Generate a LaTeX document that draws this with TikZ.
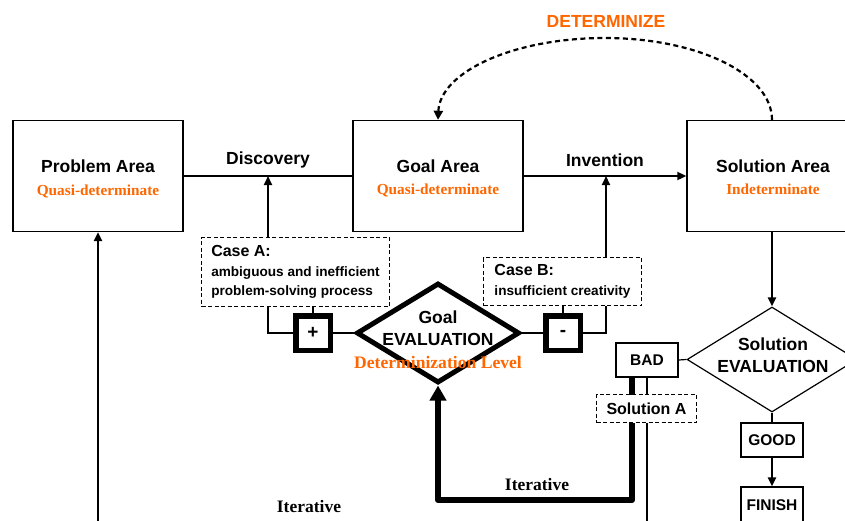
\documentclass[tikz,border=0pt]{standalone}
\usepackage{fontspec}
\setmainfont{Liberation Serif}
\newfontfamily\hv{Liberation Sans}
\usetikzlibrary{arrows.meta,shapes.geometric}
\definecolor{orng}{RGB}{255,102,0}
\begin{document}
\begin{tikzpicture}[x=1pt,y=-1pt,
  every node/.style={inner sep=0pt},
  area/.style={draw,line width=1.4pt,minimum width=170pt,minimum height=111pt},
  title/.style={anchor=base,font=\hv\bfseries\fontsize{17.5}{21}\selectfont},
  state/.style={anchor=base,font=\bfseries\fontsize{15.3}{18}\selectfont,text=orng},
  iter/.style={anchor=base,font=\bfseries\fontsize{17.5}{20}\selectfont},
  conn/.style={line width=2pt},
  arr/.style={conn,-{Triangle[length=9pt,width=8pt]}},
  casebox/.style={draw,line width=1.7pt,dash pattern=on 4pt off 2.5pt,fill=white,
    align=left,font=\hv\bfseries\fontsize{13.6}{19.5}\selectfont},
  signbox/.style={draw,line width=5.5pt,minimum size=34.5pt,fill=white,
    font=\hv\bfseries\fontsize{19}{20}\selectfont},
  smallbox/.style={draw,line width=1.2pt,fill=white,minimum width=62pt,minimum height=34pt,
    font=\hv\bfseries\fontsize{15.5}{18}\selectfont},
]
\path[use as bounding box] (0,0) rectangle (845,520);
\clip (0,0) rectangle (845,520);

% the three areas
\node[area] (pa) at (98,176) {};
\node[area] (ga) at (438,176) {};
\node[area] (sa) at (772,176) {};
\node[title] (pat) at (98,172) {Problem Area};
\node[state] (pas) at (98,195) {Quasi-determinate};
\node[title] (gat) at (438,172) {Goal Area};
\node[state] (gas) at (438,194) {Quasi-determinate};
\node[title] (sat) at (773,172) {Solution Area};
\node[state] (sas) at (773,194) {Indeterminate};

% junctions on the main line
\coordinate (dj) at (268,176);
\coordinate (ij) at (606,176);

\node[title] (disc) at (268,164) {Discovery};
\node[title] (inv) at (605,166) {Invention};
\node[title,text=orng] (det) at (606,27) {DETERMINIZE};

% main flow
\draw[conn] (pa.east) -- (ga.west);
\draw[arr] (ga.east) -- (sa.west);
\draw[line width=2.2pt,dash pattern=on 5pt off 3.5pt,-{Triangle[length=9pt,width=9pt]}]
  (sa.north) .. controls (772,74) and (697,38) .. (605,38)
  .. controls (513,38) and (440,72) .. (ga.north);

% case boxes
\node[casebox,minimum width=188pt,minimum height=69pt] (caseA) at (295.5,272)
  {{\fontsize{16}{19.5}\selectfont Case A:}\\ambiguous and inefficient\\problem-solving process};
\node[casebox,minimum width=158pt,minimum height=48pt] (caseB) at (562.5,281.5)
  {{\fontsize{16}{19.5}\selectfont Case B:}\\insufficient creativity};

% goal evaluation
\node[draw,diamond,line width=5pt,minimum width=163pt,minimum height=100pt] (gd) at (438,333) {};
\node[signbox] (plus) at (313,333) {+};
\node[signbox] (minus) at (563,333) {-};
\node[title] (gdt1) at (438,323) {Goal};
\node[title] (gdt2) at (438,345) {EVALUATION};
\node[state,font=\bfseries\fontsize{17.6}{20}\selectfont] (gdl) at (438,368) {Determinization Level};

\draw[arr] (caseA.north -| dj) -- (dj);
\draw[arr] (caseB.north -| ij) -- (ij);
\draw[conn] (plus.west) -| (caseA.south -| dj);
\draw[conn] (plus.north) -- (caseA.south -| plus.north);
\draw[conn] (plus.east) -- (gd.west);
\draw[conn] (gd.east) -- (minus.west);
\draw[conn] (minus.east) -| (caseB.south -| ij);
\draw[conn] (minus.north) -- (caseB.south -| minus.north);

% solution evaluation
\node[draw,diamond,line width=1.2pt,minimum width=170pt,minimum height=105pt] (sd) at (772,359.5) {};
\node[title] (sdt1) at (773,350) {Solution};
\node[title] (sdt2) at (773,372) {EVALUATION};
\draw[arr] (sa.south) -- (sd.north);

\node[smallbox] (bad) at (647,360) {BAD};
\node[smallbox] (good) at (772,440) {GOOD};
\node[smallbox,minimum height=36pt] (finish) at (772,505) {FINISH};
\draw[line width=1.2pt] (bad.east) -- (sd.west);
\draw[line width=1.5pt] (sd.south) -- (good.north);
\draw[arr] (good.south) -- (finish.north);

% iterative loops
\coordinate (tb) at (647,530);
\coordinate (lc) at (632,500);
\coordinate (lb) at (98,530);
\draw[line width=1.5pt] (bad.south) -- (tb);
\draw[line width=6pt,line join=round,-{Triangle[length=15pt,width=16pt]}]
  (bad.south -| lc) -- (lc) -| (gd.south);
\draw[line width=2.6pt,-{Triangle[length=9pt,width=8pt]}] (lb) -- (pa.south);
\node[casebox,font=\hv\bfseries\fontsize{16}{18}\selectfont,minimum width=100pt,minimum height=28pt] (solA) at (646.5,408.5) {Solution A};

\node[iter] (it1) at (537,490) {Iterative};
\node[iter] (it2) at (309,512) {Iterative};
\end{tikzpicture}
\end{document}
